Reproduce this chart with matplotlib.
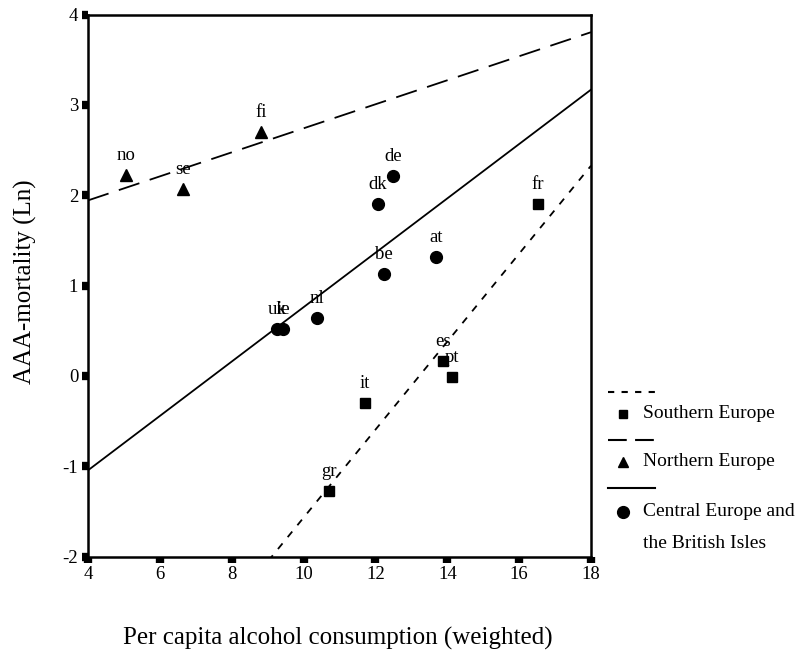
import matplotlib
matplotlib.use('Agg')
import matplotlib.pyplot as plt
import numpy as np
from matplotlib.lines import Line2D

plt.rcParams['font.family'] = ['Liberation Serif', 'DejaVu Serif']

# data
south_codes = ['fr', 'es', 'pt', 'it', 'gr']
south_x = [16.52, 13.88, 14.13, 11.71, 10.71]
south_y = [1.90, 0.16, -0.01, -0.30, -1.27]

north_codes = ['no', 'se', 'fi']
north_x = [5.06, 6.64, 8.81]
north_y = [2.22, 2.07, 2.70]

central_codes = ['de', 'dk', 'at', 'be', 'nl', 'uk', 'ie']
central_x = [12.49, 12.07, 13.69, 12.24, 10.37, 9.26, 9.43]
central_y = [2.21, 1.90, 1.32, 1.13, 0.64, 0.52, 0.52]

# regression lines: (intercept, slope)
south_fit = (-6.44, 0.487)
north_fit = (1.41, 0.133)
central_fit = (-2.25, 0.301)

x_ticks = [4, 6, 8, 10, 12, 14, 16, 18]
y_ticks = [-2, -1, 0, 1, 2, 3, 4]

W, H = 808, 655
fig = plt.figure(figsize=(W / 100, H / 100), dpi=100)
ax = fig.add_axes([88 / W, 1 - 556.5 / H, (591 - 88) / W, (556.5 - 14.5) / H])
ax.set_xlim(4, 18)
ax.set_ylim(-2, 4)

xs = np.linspace(4, 18, 200)
ax.plot(xs, south_fit[0] + south_fit[1] * xs, color='black', lw=1.3,
        dashes=(4, 4.5))
ax.plot(xs, north_fit[0] + north_fit[1] * xs, color='black', lw=1.3,
        dashes=(12, 6))
ax.plot(xs, central_fit[0] + central_fit[1] * xs, color='black', lw=1.3)

ax.plot(south_x, south_y, 's', color='black', ms=6.5, ls='none')
ax.plot(north_x, north_y, '^', color='black', ms=8, ls='none')
ax.plot(central_x, central_y, 'o', color='black', ms=8.5, ls='none')

for codes, xv, yv in [(south_codes, south_x, south_y),
                      (north_codes, north_x, north_y),
                      (central_codes, central_x, central_y)]:
    for c, x, y in zip(codes, xv, yv):
        ax.annotate(c, (x, y), xytext=(0, 14), textcoords='offset points',
                    ha='center', va='center', fontsize=13.5)

ax.set_xticks(x_ticks)
ax.set_yticks(y_ticks)
ax.set_yticklabels([str(v) for v in y_ticks])
ax.tick_params(direction='out', length=4, width=6, labelsize=13.5, pad=3)
for s in ax.spines.values():
    s.set_linewidth(1.8)

fig.text(25 / W, 1 - 282 / H, 'AAA-mortality (Ln)', rotation=90,
         ha='center', va='center', fontsize=18)
fig.text(338 / W, 1 - 638 / H, 'Per capita alcohol consumption (weighted)',
         ha='center', va='center', fontsize=18)

# legend drawn by hand to the right of the axes
def fx(px):
    return px / W


def fy(py):
    return 1 - py / H


leg = [((3, 3.5), 's', 6, ['Southern Europe'], 392, 414),
       ((9, 4), '^', 7.5, ['Northern Europe'], 440, 462),
       (None, 'o', 8.5, ['Central Europe and', 'the British Isles'], 488, 512)]
for dash, mk, ms, lines, ly, my in leg:
    ln = Line2D([fx(608), fx(655)], [fy(ly), fy(ly)], color='black', lw=1.5,
                transform=fig.transFigure)
    if dash:
        ln.set_dashes(dash)
    fig.add_artist(ln)
    fig.add_artist(Line2D([fx(623)], [fy(my)], marker=mk, ms=ms,
                          color='black', transform=fig.transFigure))
    for i, t in enumerate(lines):
        fig.text(fx(643), fy(my + 31 * i), t, ha='left', va='center',
                 fontsize=14)

fig.savefig('out.png', dpi=100)
